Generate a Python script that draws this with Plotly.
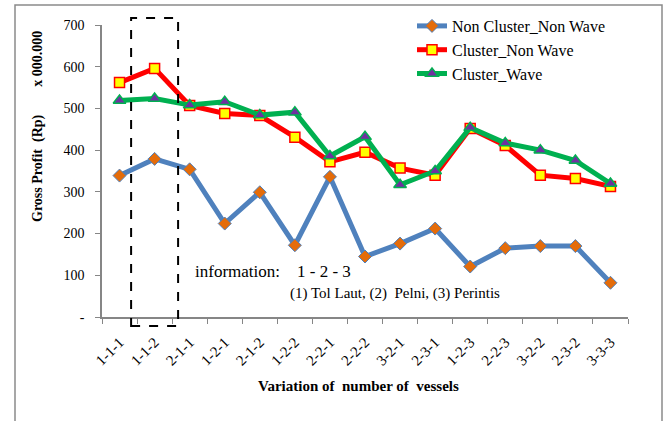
import plotly.graph_objects as go

categories = ["1-1-1", "1-1-2", "2-1-1", "1-2-1", "2-1-2", "1-2-2", "2-2-1", "2-2-2",
              "3-2-1", "2-3-1", "1-2-3", "2-2-3", "3-2-2", "2-3-2", "3-3-3"]
non_cluster_non_wave = [339, 379, 354, 224, 299, 172, 336, 145, 176, 212, 121, 165, 170, 170, 82]
cluster_non_wave = [562, 596, 507, 488, 483, 431, 372, 395, 357, 340, 452, 411, 340, 332, 313]
cluster_wave = [519, 524, 508, 516, 484, 491, 386, 432, 317, 350, 454, 417, 400, 375, 320]
y_tickvals = [0, 100, 200, 300, 400, 500, 600, 700]
y_ticktext = ["-", "100", "200", "300", "400", "500", "600", "700"]

FONT = "Liberation Serif, Times New Roman, serif"
W, H = 665, 421
L, R, T, B = 102, 37, 25, 104
PW, PH = W - L - R, H - T - B

def px(x):
    return (x - L) / PW

def py(y):
    return (H - B - y) / PH

fig = go.Figure()
fig.add_trace(go.Scatter(
    x=categories, y=non_cluster_non_wave, name="Non Cluster_Non Wave", mode="lines+markers",
    line=dict(color="#4F81BD", width=5),
    marker=dict(symbol="diamond", size=10, color="#E46C0A", line=dict(color="#4F81BD", width=1)),
    legendgroup="a"))
fig.add_trace(go.Scatter(
    x=categories, y=cluster_non_wave, name="Cluster_Non Wave", mode="lines+markers",
    line=dict(color="#FF0000", width=5),
    marker=dict(symbol="square", size=10, color="#FFFF00", line=dict(color="#FF0000", width=1.5)),
    legendgroup="b"))
fig.add_trace(go.Scatter(
    x=categories, y=cluster_wave, name="Cluster_Wave", mode="lines+markers",
    line=dict(color="#00B050", width=5),
    marker=dict(symbol="triangle-up", size=11, color="#7030A0", line=dict(color="#00B050", width=1.5)),
    legendgroup="c"))

n = len(categories)
# dashed box around the 1-1-2 category
idx = categories.index("1-1-2")
x0 = (idx - 0.67 + 0.5) / n
x1 = (idx + 0.67 + 0.5) / n
fig.add_shape(type="rect", xref="x domain", yref="paper", x0=x0, x1=x1,
              y0=py(326), y1=py(18), line=dict(color="black", width=2, dash="dash"),
              fillcolor="rgba(0,0,0,0)", layer="above")

# outer chart border
fig.add_shape(type="rect", xref="paper", yref="paper", x0=px(15), x1=px(662),
              y0=py(430), y1=py(5), line=dict(color="#8A8A8A", width=1.5),
              fillcolor="rgba(0,0,0,0)", layer="below")

fig.add_annotation(xref="paper", yref="paper", x=px(28), y=py(127), textangle=-90,
                   text="<b>Gross Profit\u00a0\u00a0(Rp)\u00a0\u00a0\u00a0\u00a0\u00a0\u00a0\u00a0\u00a0x 000.000</b>",
                   showarrow=False, font=dict(family=FONT, size=14, color="black"))
fig.add_annotation(xref="paper", yref="paper", x=px(358), y=py(396),
                   text="<b>Variation of\u00a0\u00a0number of\u00a0\u00a0vessels</b>",
                   showarrow=False, font=dict(family=FONT, size=15, color="black"))
fig.add_annotation(xref="paper", yref="paper", x=px(193), y=py(283), xanchor="left",
                   text="information:\u00a0\u00a0\u00a0\u00a01 - 2 - 3",
                   showarrow=False, font=dict(family=FONT, size=17, color="black"))
fig.add_annotation(xref="paper", yref="paper", x=px(288), y=py(304), xanchor="left",
                   text="(1) Tol Laut, (2)\u00a0\u00a0Pelni, (3) Perintis",
                   showarrow=False, font=dict(family=FONT, size=15, color="black"))

fig.update_layout(
    width=W, height=H, margin=dict(l=L, r=R, t=T, b=B, autoexpand=False),
    paper_bgcolor="white", plot_bgcolor="white",
    font=dict(family=FONT, size=14, color="black"),
    showlegend=True,
    legend=dict(xref="container", yref="container", x=412 / W, y=1 - 9 / H,
                xanchor="left", yanchor="top",
                font=dict(family=FONT, size=16, color="black"),
                bgcolor="rgba(0,0,0,0)", tracegroupgap=3, traceorder="normal"),
    xaxis=dict(type="category", showgrid=False, showline=True, linecolor="#868686", linewidth=1.5,
               ticks="outside", tickson="boundaries", ticklen=5, tickcolor="#868686",
               tickangle=-45, tickfont=dict(family=FONT, size=15, color="black"),
               ticklabelstandoff=9,
               range=[-0.5, n - 0.5], zeroline=False),
    yaxis=dict(range=[0, 700], tickvals=y_tickvals, ticktext=y_ticktext, showgrid=False,
               showline=True, linecolor="#868686", linewidth=1.5, ticks="outside",
               ticklen=5, tickcolor="#868686", zeroline=False,
               tickfont=dict(family=FONT, size=14, color="black"), ticklabelstandoff=8),
)

fig.write_html("out.html", config={"displayModeBar": False},
               post_script="document.body.style.margin='0';document.body.style.overflow='hidden';")
